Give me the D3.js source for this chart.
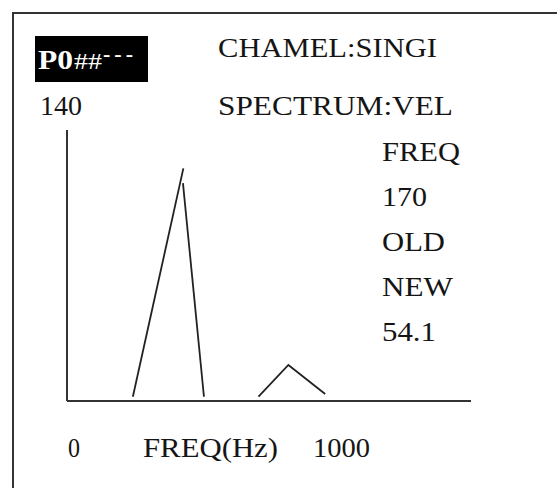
<!DOCTYPE html>
<meta charset="utf-8">
<style>
body { margin: 0; background: #fff; }
text { font-family: "Liberation Serif", "Times New Roman", serif; font-size: 27px; fill: #151515; }
</style>
<svg width="557" height="488"></svg>
<script src="https://d3js.org/d3.v7.min.js"></script>
<script>

// header / side / axis texts
var headerLabels = ["CHAMEL:SINGI", "SPECTRUM:VEL"];
var sideLabels = ["FREQ", "170", "OLD", "NEW", "54.1"];
var xTickLabels = ["0", "FREQ(Hz)", "1000"];
var yMax = 140, xMax = 1000;

// spectrum traces (freq Hz, amplitude)
var riseMain = [{f: 163, a: 2.2}, {f: 288, a: 120.2}];
var fallMain = [{f: 287, a: 112.6}, {f: 339, a: 2.2}];
var peakSmall = [{f: 474, a: 2.2}, {f: 548, a: 18.6}, {f: 639, a: 3.6}];

var svg = d3.select("svg");

// outer panel frame (runs off the right and bottom edges)
svg.append("rect")
    .attr("x", 13).attr("y", 13)
    .attr("width", 600).attr("height", 600)
    .attr("fill", "none").attr("stroke", "#333").attr("stroke-width", 2);

var x = d3.scaleLinear().domain([0, xMax]).range([67, 471]),
    y = d3.scaleLinear().domain([0, yMax]).range([401, 130]);

// axes
svg.append("line")
    .attr("x1", x(0)).attr("x2", x(0)).attr("y1", y(yMax)).attr("y2", y(0))
    .attr("stroke", "#333").attr("stroke-width", 2);
svg.append("line")
    .attr("x1", x(0)).attr("x2", x(xMax)).attr("y1", y(0)).attr("y2", y(0))
    .attr("stroke", "#333").attr("stroke-width", 2.2);

var line = d3.line().x(function(d) { return x(d.f); }).y(function(d) { return y(d.a); });

svg.selectAll("path.trace")
    .data([riseMain, fallMain, peakSmall])
  .enter().append("path")
    .attr("class", "trace")
    .attr("d", line)
    .attr("fill", "none")
    .attr("stroke", "#222")
    .attr("stroke-width", 1.8);

// black title box
svg.append("rect")
    .attr("x", 35).attr("y", 36).attr("width", 113).attr("height", 46)
    .attr("fill", "#000");
svg.append("text").attr("x", 38).attr("y", 69)
    .attr("textLength", 35).attr("lengthAdjust", "spacingAndGlyphs")
    .style("font-weight", "bold").style("font-size", "28px").style("fill", "#fff")
    .text("P0");
svg.append("text").attr("x", 74).attr("y", 69)
    .attr("textLength", 28).attr("lengthAdjust", "spacingAndGlyphs")
    .style("font-size", "24px").style("fill", "#fff")
    .text("##");
svg.append("text").attr("x", 103).attr("y", 61)
    .attr("textLength", 30).attr("lengthAdjust", "spacing")
    .style("font-size", "22px").style("font-weight", "bold").style("fill", "#fff")
    .text("---");

// header texts
var headerPos = [[218, 57, 219], [218, 115, 235]];
svg.selectAll("text.header")
    .data(headerLabels)
  .enter().append("text")
    .attr("class", "header")
    .attr("x", function(d, i) { return headerPos[i][0]; })
    .attr("y", function(d, i) { return headerPos[i][1]; })
    .attr("textLength", function(d, i) { return headerPos[i][2]; })
    .attr("lengthAdjust", "spacingAndGlyphs")
    .text(function(d) { return d; });

// y max label
svg.append("text").attr("x", 40).attr("y", 115)
    .attr("textLength", 42).attr("lengthAdjust", "spacingAndGlyphs")
    .text(yMax);

// right column readout
var sideWidths = [78, 45, 63, 71, 54];
svg.selectAll("text.side")
    .data(sideLabels)
  .enter().append("text")
    .attr("class", "side")
    .attr("x", 382)
    .attr("y", function(d, i) { return 161 + i * 45; })
    .attr("textLength", function(d, i) { return sideWidths[i]; })
    .attr("lengthAdjust", "spacingAndGlyphs")
    .text(function(d) { return d; });

// bottom labels
var bottomPos = [[68, 12], [143, 135], [313, 57]];
svg.selectAll("text.xlab")
    .data(xTickLabels)
  .enter().append("text")
    .attr("class", "xlab")
    .attr("x", function(d, i) { return bottomPos[i][0]; })
    .attr("y", 457)
    .attr("textLength", function(d, i) { return bottomPos[i][1]; })
    .attr("lengthAdjust", "spacingAndGlyphs")
    .text(function(d) { return d; });

</script>
